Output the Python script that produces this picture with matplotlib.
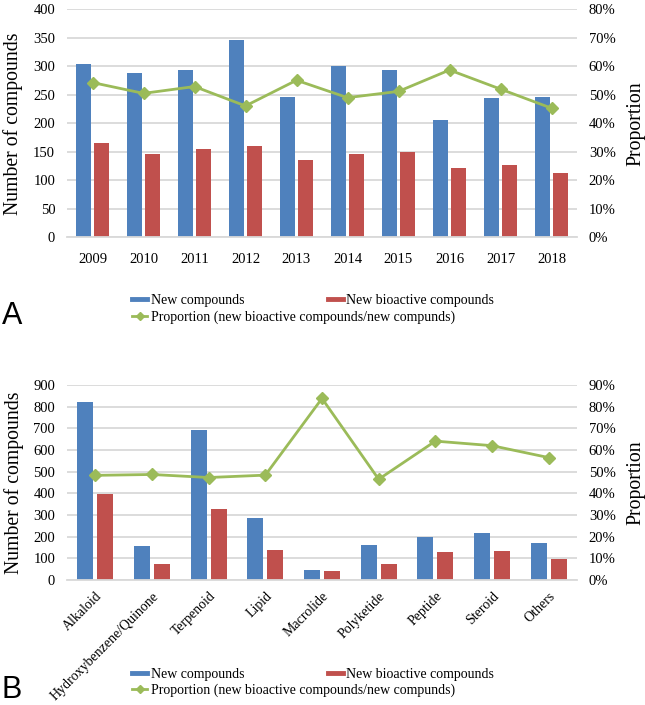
import matplotlib
matplotlib.use("Agg")
import matplotlib.pyplot as plt
from matplotlib.lines import Line2D
import numpy as np

years = ["2009", "2010", "2011", "2012", "2013", "2014", "2015", "2016", "2017", "2018"]
new_a = [304, 289, 293, 347, 247, 300, 293, 206, 244, 247]
bio_a = [165, 146, 155, 160, 136, 147, 150, 121, 127, 112]
prop_a = [54.3, 50.5, 52.9, 46.1, 55.1, 49.0, 51.2, 58.7, 52.0, 45.3]

classes = ["Alkaloid", "Hydroxybenzene/Quinone", "Terpenoid", "Lipid", "Macrolide",
           "Polyketide", "Peptide", "Steroid", "Others"]
new_b = [822, 156, 691, 287, 48, 162, 198, 216, 170]
bio_b = [397, 76, 327, 139, 40, 76, 127, 134, 96]
prop_b = [48.3, 48.7, 47.3, 48.4, 83.8, 46.5, 64.1, 62.0, 56.5]

BLUE = "#4F81BD"
RED = "#C0504D"
GREEN = "#9BBB59"
GRID = "#D9D9D9"
SERIF = ["Liberation Serif", "DejaVu Serif"]

W, H = 645, 705
fig = plt.figure(figsize=(W / 100, H / 100), dpi=100)


def panel(rect, cats, new, bio, prop, ymax, ystep, pmax, rotate):
    ax = fig.add_axes(rect)
    x = np.arange(len(cats))
    w = 0.285
    ax.bar(x - 0.176, new, w, color=BLUE, zorder=2)
    ax.bar(x + 0.176, bio, w, color=RED, zorder=2)
    ax.set_xlim(-0.5, len(cats) - 0.5)
    ax.set_ylim(0, ymax)
    ax.set_yticks(np.arange(0, ymax + 1, ystep))
    ax.yaxis.grid(True, color=GRID, lw=1.3, zorder=0)
    ax.set_axisbelow(True)
    for s in ["top", "right", "left"]:
        ax.spines[s].set_visible(False)
    ax.spines["bottom"].set_color(GRID)
    ax.spines["bottom"].set_linewidth(1.3)
    ax.tick_params(axis="y", length=0, labelsize=10.5, pad=8.5)
    ax.set_xticks(x)
    if rotate:
        ax.set_xticklabels(cats, rotation=45, ha="right", va="top",
                           rotation_mode="anchor", family=SERIF, fontsize=10)
        ax.tick_params(axis="x", length=0, pad=7)
    else:
        ax.set_xticklabels(cats, family=SERIF, fontsize=10.5)
        ax.tick_params(axis="x", length=0, pad=11)
    for lab in ax.get_yticklabels():
        lab.set_family(SERIF)
    ax.set_ylabel("Number of compounds", family=SERIF, fontsize=14.2, labelpad=7)

    ax2 = ax.twinx()
    ax2.plot(x, prop, color=GREEN, lw=2, marker="D", ms=6.5, zorder=3)
    ax2.set_ylim(0, pmax)
    ticks = np.arange(0, pmax + 1, 10)
    ax2.set_yticks(ticks)
    ax2.set_yticklabels([f"{t}%" for t in ticks], family=SERIF, fontsize=10.5)
    ax2.tick_params(length=0, pad=8.5)
    for s in ["top", "right", "left", "bottom"]:
        ax2.spines[s].set_visible(False)
    ax2.set_ylabel("Proportion", family=SERIF, fontsize=14.2, labelpad=8)
    return ax


def legends(ytop1, ytop2):
    h1 = Line2D([], [], color=BLUE, lw=3.5)
    h2 = Line2D([], [], color=RED, lw=3.5)
    h3 = Line2D([], [], color=GREEN, lw=2, marker="D", ms=4)
    kw = dict(frameon=False, prop={"family": SERIF, "size": 10}, handlelength=1.1,
              handletextpad=0.25, borderaxespad=0, borderpad=0)
    fig.legend([h1, h2], ["New compounds", "New bioactive compounds"], ncol=2,
               loc="upper left", bbox_to_anchor=(132 / W, 1 - ytop1 / H),
               columnspacing=6.0, **kw)
    fig.legend([h3], ["Proportion (new bioactive compounds/new compunds)"],
               loc="upper left", bbox_to_anchor=(132 / W, 1 - ytop2 / H), **kw)


L, R = 67, 577
panel([L / W, 1 - 237.3 / H, (R - L) / W, 228 / H], years, new_a, bio_a, prop_a, 400, 50, 80, False)
panel([L / W, 1 - 580 / H, (R - L) / W, 195 / H], classes, new_b, bio_b, prop_b, 900, 100, 90, True)

legends(294, 311)
legends(668, 684)

fig.text(2 / W, 1 - 324 / H, "A", fontsize=22, family=["Liberation Sans", "DejaVu Sans"])
fig.text(2 / W, 1 - 698 / H, "B", fontsize=22, family=["Liberation Sans", "DejaVu Sans"])

fig.savefig("out.png", dpi=100)
